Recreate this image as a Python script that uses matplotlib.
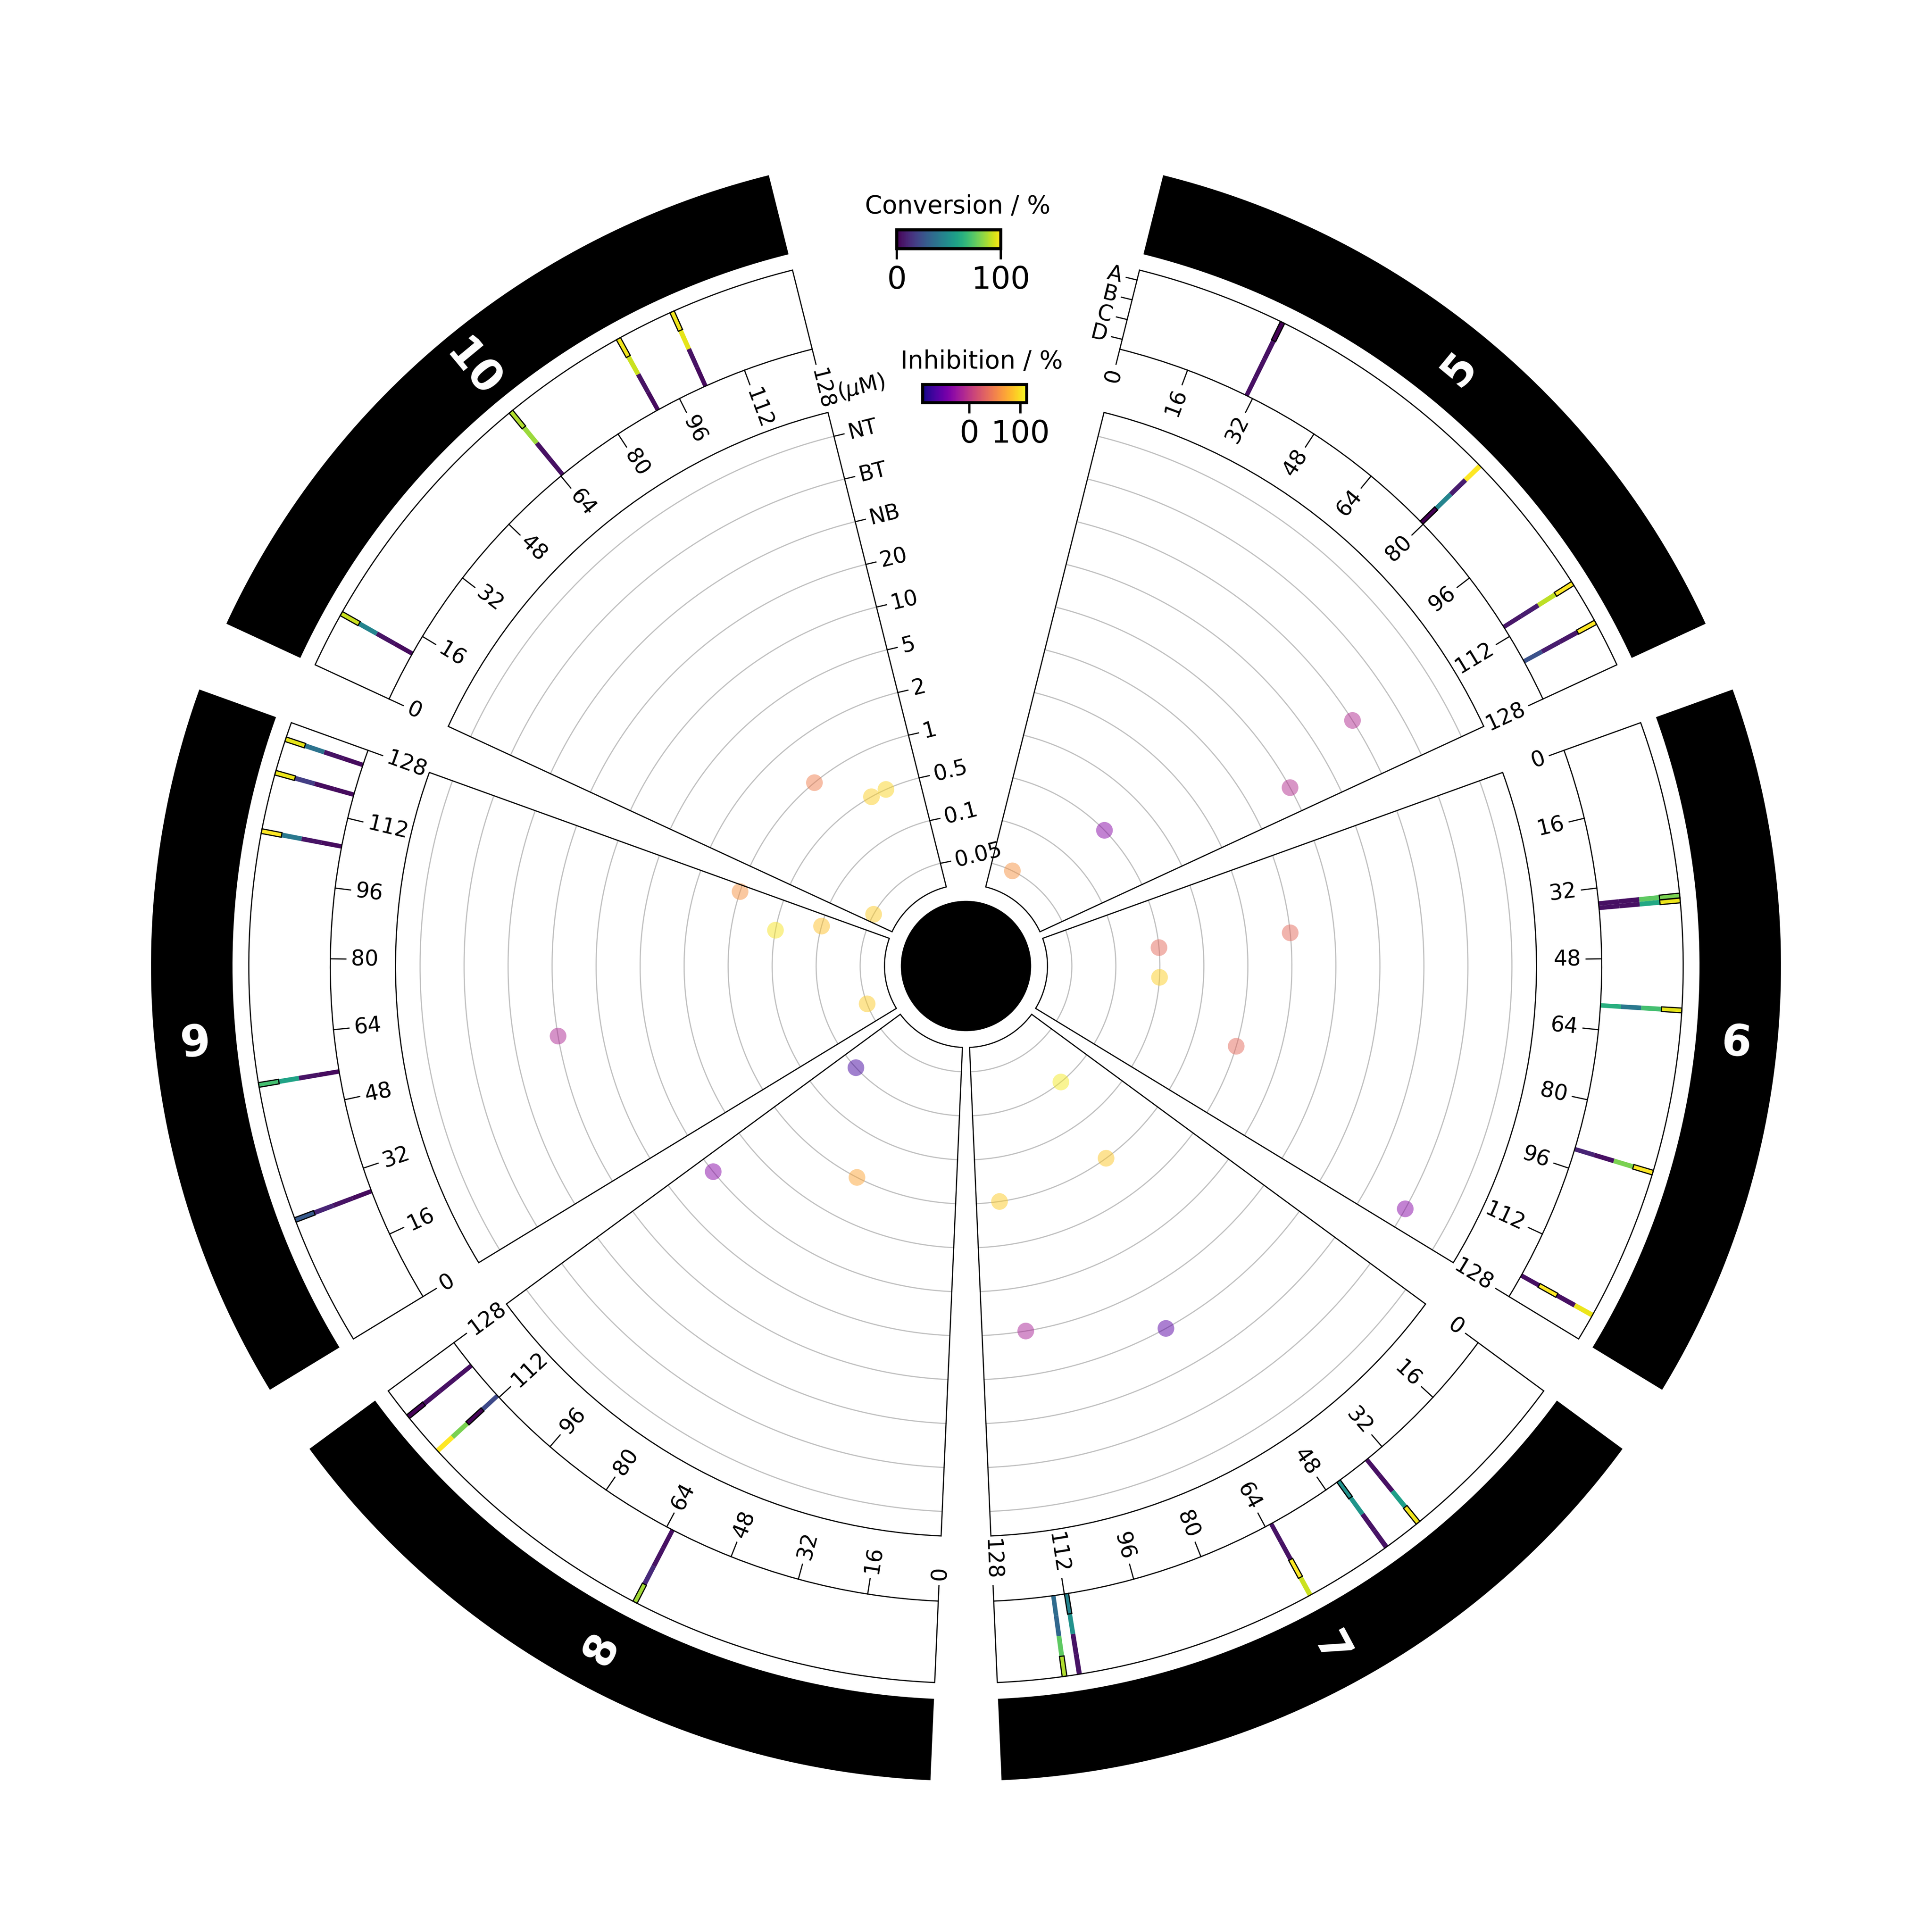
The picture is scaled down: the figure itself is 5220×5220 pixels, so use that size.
import numpy as np
import matplotlib
matplotlib.use('Agg')
import matplotlib.pyplot as plt
from matplotlib import cm, colors

# ---- data ----
sector_names = ['5', '6', '7', '8', '9', '10']
conc_labels = ['0.05', '0.1', '0.5', '1', '2', '5', '10', '20', 'NB', 'BT', 'NT']
row_names = ['A', 'B', 'C', 'D']
x_ticks = [0, 16, 32, 48, 64, 80, 96, 112, 128]

cmpd_sector = [0]*4 + [1]*5 + [2]*5 + [3]*3 + [4]*5 + [5]*4
cmpd_pos = [30, 79, 109, 118,
            35, 36, 58, 91, 122,
            36, 44, 62, 111, 114,
            62, 112, 121,
            26, 54, 105, 117, 124,
            11, 64, 90, 102]
conv_A = [0, 100, 100, 100,
          80, 97, 96, 100, 97,
          98, 5, 92, 5, 88,
          86, 100, 1,
          28, 70, 100, 97, 96,
          92, 88, 98, 98]
conv_B = [4, 8, 90, 6,
          75, 60, 70, 80, 4,
          56, 5, 100, 5, 75,
          12, 80, 4,
          10, 58, 40, 18, 38,
          45, 85, 92, 96]
conv_C = [4, 45, 8, 8,
          4, 4, 40, 4, 100,
          4, 52, 5, 50, 33,
          5, 1, 4,
          5, 5, 5, 3, 5,
          5, 4, 5, 5]
conv_D = [4, 0, 6, 25,
          4, 4, 63, 10, 4,
          4, 50, 5, 45, 35,
          4, 22, 4,
          3, 3, 3, 3, 3,
          3, 4, 3, 3]
hl_row = ['A', 'D', 'A', 'A',
          'A', 'A', 'A', 'A', 'C',
          'A', 'D', 'B', 'D', 'A',
          'A', 'C', 'A',
          'A', 'A', 'A', 'A', 'A',
          'A', 'A', 'A', 'A']
inh_level = [0, 2, 8, 6,
             5, 2, 2, 4, 9,
             1, 3, 7, 6, 3,
             3, 1, 5,
             0, 7, 2, 1, 3,
             0, 3, 2, 2]
inh_val = [60, -35, -10, -8,
           35, 35, 92, 35, -35,
           105, 88, -60, -15, 90,
           70, -70, -35,
           90, -12, 102, 85, 60,
           90, 48, 92, 95]

conv = {'A': conv_A, 'B': conv_B, 'C': conv_C, 'D': conv_D}

# ---- layout (radii in pixels of the 5220 px figure) ----
START, END, GAP = 14.0, 346.0, 5.0
SPAN = (END - START - GAP * (len(sector_names) - 1)) / len(sector_names)
U = 22.02  # px per radial unit (outer edge = 100)
R_CENTER = 8 * U
R_SC_IN, R_SC_OUT = 10 * U, 70 * U
R_HM_IN, R_HM_OUT = 78 * U, 88 * U
R_BAND_IN, R_BAND_OUT = 90 * U, 100 * U
GRID0, GRIDSTEP = 286, 118.9
ROWH = (R_HM_OUT - R_HM_IN) / 4


def sec_start(k):
    return START + k * (SPAN + GAP)


def theta(k, x):
    return np.deg2rad(sec_start(k) + x / 128.0 * SPAN)


def lvl_r(lvl):
    return GRID0 + GRIDSTEP * lvl


def radial_rot(t):
    d = np.rad2deg(t) % 360
    if d < 180:
        return 90 - d, 'right'
    return 270 - d, 'left'


UNIT = np.deg2rad(SPAN / 128.0)

fig = plt.figure(figsize=(17.4, 17.4), dpi=300)
ax = fig.add_axes([0, 0, 1, 1], projection='polar')
ax.set_theta_zero_location('N')
ax.set_theta_direction(-1)
ax.set_autoscale_on(False)
ax.set_ylim(0, 2610)
ax.axis('off')

conv_cmap = plt.get_cmap('viridis')
conv_norm = colors.Normalize(0, 100)
inh_cmap = plt.get_cmap('plasma')
inh_norm = colors.Normalize(-91, 112)

# center disc
ax.bar(0, R_CENTER, width=2 * np.pi, bottom=0, color='black', linewidth=0)

for k, name in enumerate(sector_names):
    t0 = theta(k, 0)
    t1 = theta(k, 128)
    tc = (t0 + t1) / 2
    w = t1 - t0
    ax.bar(tc, R_BAND_OUT - R_BAND_IN, width=w, bottom=R_BAND_IN,
           color='black', linewidth=0)
    rot, _ = radial_rot(tc)
    ax.text(tc, (R_BAND_IN + R_BAND_OUT) / 2, name, color='white',
            fontsize=28, fontweight='bold', ha='center', va='center',
            rotation=rot, rotation_mode='anchor')
    ax.bar(tc, R_HM_OUT - R_HM_IN, width=w, bottom=R_HM_IN, fill=False,
           edgecolor='black', linewidth=0.75, zorder=5)
    ax.bar(tc, R_SC_OUT - R_SC_IN, width=w, bottom=R_SC_IN, fill=False,
           edgecolor='black', linewidth=0.75, zorder=5)
    th = np.linspace(t0, t1, 200)
    for lvl in range(len(conc_labels)):
        ax.plot(th, np.full_like(th, lvl_r(lvl)), color='#c0c0c0',
                linewidth=0.75, zorder=1)
    # x ticks of heatmap track
    for xt in x_ticks:
        tt = theta(k, xt)
        ax.plot([tt, tt], [R_HM_IN - 42, R_HM_IN], color='black', linewidth=0.75)
        rot, ha = radial_rot(tt)
        ax.text(tt, R_HM_IN - 56, str(xt), fontsize=14, ha=ha, va='center',
                rotation=rot, rotation_mode='anchor')

# heatmap cells
for i in range(len(cmpd_pos)):
    k = cmpd_sector[i]
    tt = theta(k, cmpd_pos[i] + 0.5)
    for j, rn in enumerate(row_names):
        bottom = R_HM_OUT - (j + 1) * ROWH
        c = conv_cmap(conv_norm(conv[rn][i]))
        if rn == hl_row[i]:
            ax.bar(tt, ROWH, width=UNIT * 0.95, bottom=bottom, color=c,
                   edgecolor='black', linewidth=0.75, zorder=4)
        else:
            ax.bar(tt, ROWH, width=UNIT, bottom=bottom, color=c,
                   linewidth=0, zorder=3)

# inhibition points
pt_theta = [theta(cmpd_sector[i], cmpd_pos[i]) for i in range(len(cmpd_pos))]
pt_r = [lvl_r(l) for l in inh_level]
ax.scatter(pt_theta, pt_r, c=inh_val, cmap=inh_cmap, norm=inh_norm, s=117,
           alpha=0.5, linewidths=0, zorder=4)

# y axis of scatter track (end of last sector)
te = theta(len(sector_names) - 1, 128)
rot_e = -np.rad2deg(te)
for lvl, lab in enumerate(conc_labels):
    r = lvl_r(lvl)
    ax.plot([te, te + 28 / r], [r, r], color='black', linewidth=0.75)
    ax.text(te + 40 / r, r, lab, fontsize=14, ha='left', va='center',
            rotation=rot_e, rotation_mode='anchor')
ax.text(te + 38 / 1586, 1586, r'($\mu$M)', fontsize=14, ha='left', va='center',
        rotation=rot_e, rotation_mode='anchor')

# row labels of heatmap track (start of first sector)
ts = theta(0, 0)
rot_s = -np.rad2deg(ts)
for j, rn in enumerate(row_names):
    r = R_HM_OUT - (j + 0.5) * ROWH
    ax.plot([ts - 30 / r, ts], [r, r], color='black', linewidth=0.75)
    ax.text(ts - 42 / r, r, rn, fontsize=14, ha='right', va='center',
            rotation=rot_s, rotation_mode='anchor')

ax.set_ylim(0, 2610)

# colorbars
W = 5220.0
cax1 = fig.add_axes([2423 / W, 1 - 672 / W, 281 / W, 51 / W])
cb1 = fig.colorbar(cm.ScalarMappable(norm=conv_norm, cmap=conv_cmap),
                   cax=cax1, orientation='horizontal')
cb1.set_ticks([0, 100])
cb1.ax.tick_params(labelsize=20, width=1.5, length=7)
cb1.outline.set_linewidth(2)
fig.text(2588 / W, 1 - 558 / W, 'Conversion / %', ha='center', va='center',
         fontsize=16)

cax2 = fig.add_axes([2493 / W, 1 - 1088 / W, 281 / W, 49 / W])
cb2 = fig.colorbar(cm.ScalarMappable(norm=inh_norm, cmap=inh_cmap),
                   cax=cax2, orientation='horizontal')
cb2.set_ticks([0, 100])
cb2.ax.tick_params(labelsize=20, width=1.5, length=7)
cb2.outline.set_linewidth(2)
fig.text(2652 / W, 1 - 977 / W, 'Inhibition / %', ha='center', va='center',
         fontsize=16)

fig.savefig('out.png', dpi=300, facecolor='white')
